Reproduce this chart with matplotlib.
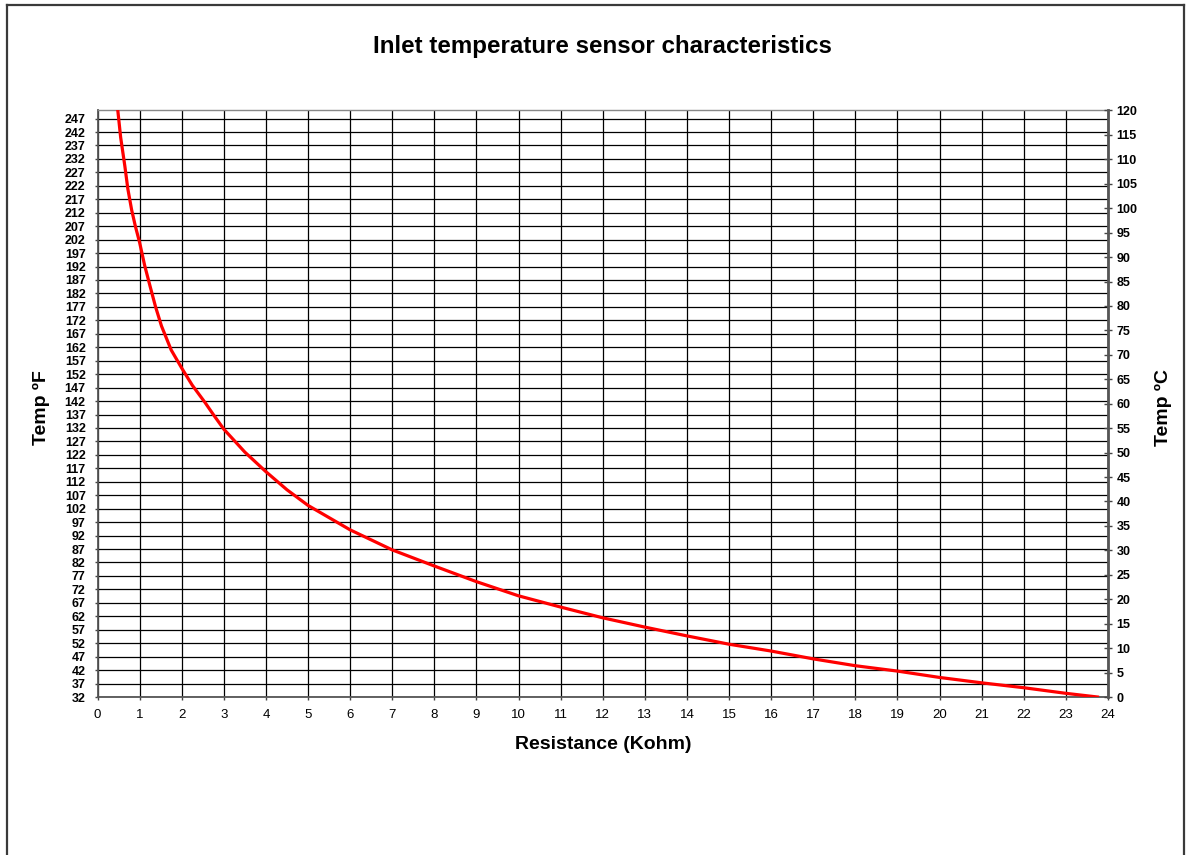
import matplotlib
matplotlib.use('Agg')
import matplotlib.pyplot as plt
from matplotlib.lines import Line2D

# values (Kohm -> deg C)
resistance_kohm = [0.48, 0.55, 0.65, 0.72, 0.81, 0.9, 1.0, 1.12, 1.25, 1.38, 1.52, 1.75, 2.0,
                   2.25, 2.55, 2.75, 3.0, 3.5, 4.0, 4.5, 5.0, 6.0, 7.0, 8.0,
                   9.0, 10.0, 11.0, 12.0, 13.0, 14.0, 15.0, 16.0, 17.0, 18.0, 19.0, 20.0,
                   21.0, 22.0, 23.0, 23.75]
temp_c = [120.2, 114.5, 108.6, 104.0, 99.7, 96.3, 93.0, 88.3, 84.0, 79.8, 75.9, 71.0, 67.3,
          63.8, 60.3, 57.8, 54.8, 50.1, 46.1, 42.4, 39.2, 34.2, 30.1, 26.8,
          23.6, 20.7, 18.4, 16.2, 14.3, 12.5, 10.8, 9.4, 7.8, 6.4, 5.3, 4.0, 2.9, 1.9, 0.75, 0.0]

fahrenheit_ticks = list(range(32, 248, 5))
celsius_ticks = list(range(0, 121, 5))
resistance_ticks = list(range(0, 25))

W, H = 1187, 855


def fx(px):
    return px / W


def fy(py):
    return 1 - py / H


def main():
    plt.rcParams['font.family'] = ['Liberation Sans', 'DejaVu Sans']
    fig = plt.figure(figsize=(W / 100, H / 100), dpi=100)

    # outer chart border (Excel chart area)
    border = dict(color='#3a3a3a', lw=1.6, transform=fig.transFigure)
    fig.add_artist(Line2D([fx(7), fx(7)], [0, fy(5)], **border))
    fig.add_artist(Line2D([fx(7), fx(1184)], [fy(5), fy(5)], **border))
    fig.add_artist(Line2D([fx(1184), fx(1184)], [0, fy(5)], **border))

    left, right, top, bottom = 97.5, 1108, 110.5, 697
    ax = fig.add_axes([fx(left), fy(bottom), (right - left) / W, (bottom - top) / H])
    ax.set_xlim(0, 24)
    ax.set_ylim(32, 250)
    ax.set_xticks(resistance_ticks)
    ax.set_yticks(fahrenheit_ticks)
    ax.grid(True, color='black', lw=0.9)
    ax.set_axisbelow(True)

    ax.tick_params(axis='y', direction='out', length=2.5, width=1, color='#444444',
                   labelsize=9, pad=6)
    ax.tick_params(axis='x', direction='out', length=2.5, width=1, color='#444444',
                   labelsize=9.5, pad=6)
    for lab in ax.get_yticklabels():
        lab.set_fontweight('bold')
    for name in ['left', 'bottom']:
        ax.spines[name].set_color('#555555')
        ax.spines[name].set_linewidth(1.3)
    ax.spines['top'].set_color('#888888')
    ax.spines['top'].set_linewidth(1.0)

    ax2 = ax.twinx()
    ax2.set_ylim(0, 120)
    ax2.set_yticks(celsius_ticks)
    ax2.tick_params(axis='y', direction='inout', length=6, width=1, color='#444444',
                    labelsize=9, pad=3)
    for lab in ax2.get_yticklabels():
        lab.set_fontweight('bold')
    ax2.spines['right'].set_color('#555555')
    ax2.spines['right'].set_linewidth(2.0)
    for name in ['left', 'top', 'bottom']:
        ax2.spines[name].set_visible(False)

    ax2.plot(resistance_kohm, temp_c, color='#ff0000', lw=2.3, clip_on=True)

    fig.text(fx(602), fy(46), 'Inlet temperature sensor characteristics',
             ha='center', va='center', fontsize=17.4, fontweight='bold')
    fig.text(fx(41), fy(408), 'Temp ºF', rotation=90, ha='center', va='center',
             fontsize=14, fontweight='bold')
    fig.text(fx(1163), fy(408), 'Temp ºC', rotation=90, ha='center', va='center',
             fontsize=14, fontweight='bold')
    fig.text(fx(603), fy(744), 'Resistance (Kohm)', ha='center', va='center',
             fontsize=14, fontweight='bold')

    fig.savefig('out.png', dpi=100)


if __name__ == '__main__':
    main()
